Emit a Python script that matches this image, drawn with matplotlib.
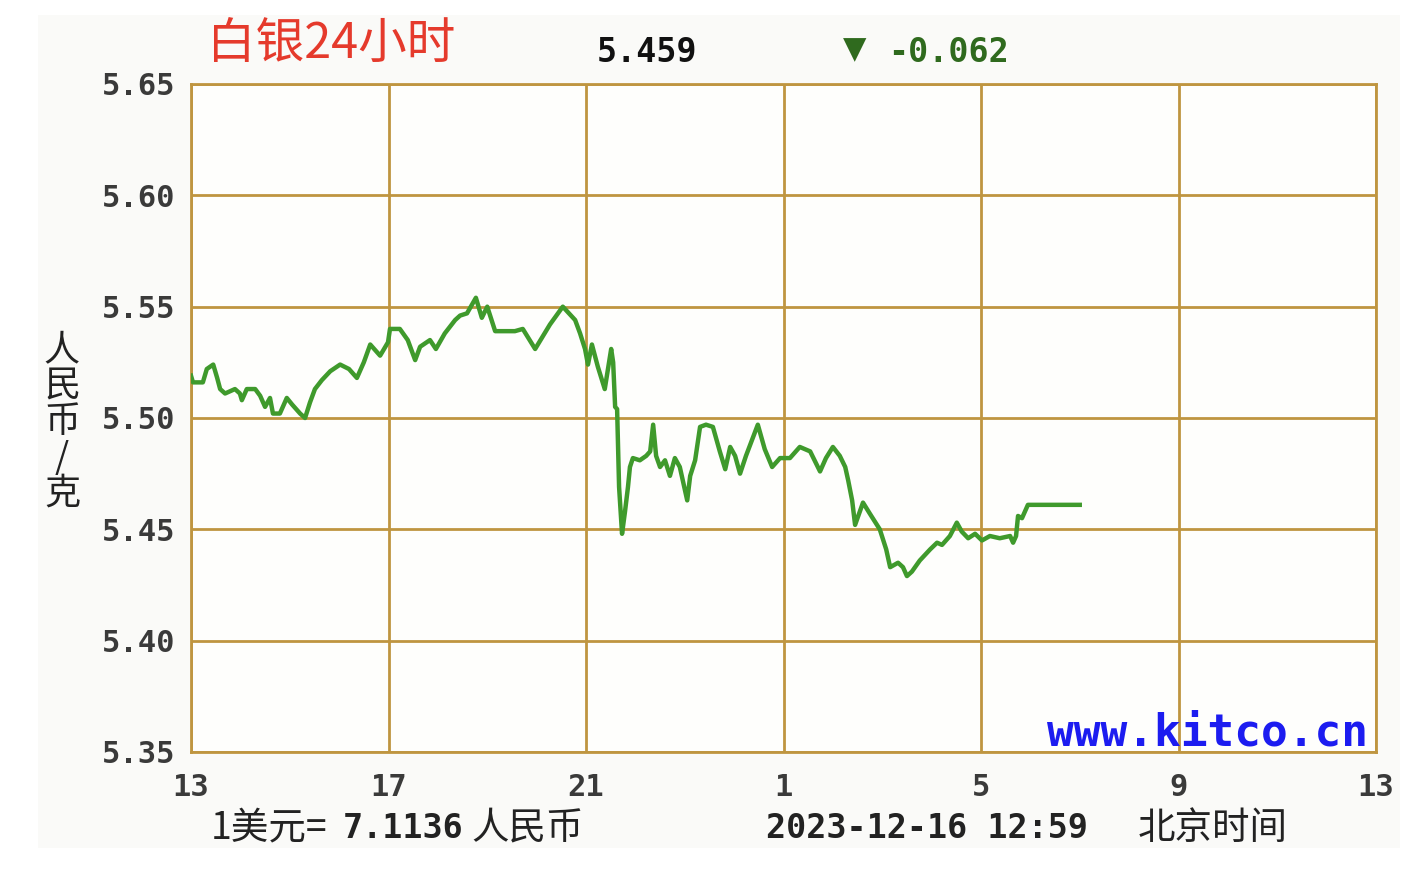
import matplotlib.pyplot as plt
from matplotlib.patches import Rectangle

# hours after 13:00 and silver price (yuan/gram)
hours = [0.00, 0.04, 0.24, 0.32, 0.45, 0.53, 0.59, 0.69, 0.89, 0.99, 1.03, 1.13, 1.30, 1.40, 1.50,
         1.60, 1.66, 1.80, 1.94, 2.05, 2.21, 2.31, 2.41, 2.51, 2.65, 2.82, 3.02, 3.20, 3.36, 3.50,
         3.63, 3.83, 3.99, 4.03, 4.23, 4.39, 4.54, 4.64, 4.84, 4.96, 5.14, 5.35, 5.45, 5.59, 5.77,
         5.89, 6.00, 6.16, 6.56, 6.72, 6.97, 7.27, 7.53, 7.78, 7.88, 7.98, 8.04, 8.12, 8.24, 8.38,
         8.51, 8.55, 8.59, 8.63, 8.67, 8.73, 8.79, 8.85, 8.89, 8.95, 9.09, 9.22, 9.30, 9.36, 9.42,
         9.50, 9.60, 9.70, 9.80, 9.90, 9.98, 10.05, 10.11, 10.21, 10.31, 10.43, 10.57, 10.71, 10.82,
         10.92, 11.02, 11.12, 11.24, 11.36, 11.48, 11.62, 11.77, 11.93, 12.13, 12.33, 12.54, 12.74,
         12.86, 13.00, 13.14, 13.25, 13.31, 13.39, 13.45, 13.61, 13.75, 13.95, 14.08, 14.16, 14.32,
         14.42, 14.50, 14.60, 14.76, 14.97, 15.11, 15.21, 15.37, 15.51, 15.61, 15.74, 15.88, 16.02,
         16.18, 16.38, 16.59, 16.65, 16.71, 16.75, 16.83, 16.95, 18.00]
price = [5.519, 5.516, 5.516, 5.522, 5.524, 5.518, 5.513, 5.511, 5.513, 5.511, 5.508, 5.513, 5.513,
         5.510, 5.505, 5.509, 5.502, 5.502, 5.509, 5.506, 5.502, 5.500, 5.507, 5.513, 5.517, 5.521,
         5.524, 5.522, 5.518, 5.525, 5.533, 5.528, 5.534, 5.540, 5.540, 5.535, 5.526, 5.532, 5.535,
         5.531, 5.538, 5.544, 5.546, 5.547, 5.554, 5.545, 5.550, 5.539, 5.539, 5.540, 5.531, 5.542,
         5.550, 5.544, 5.538, 5.531, 5.524, 5.533, 5.523, 5.513, 5.531, 5.525, 5.505, 5.504, 5.469,
         5.448, 5.458, 5.469, 5.478, 5.482, 5.481, 5.483, 5.485, 5.497, 5.483, 5.478, 5.481, 5.474,
         5.482, 5.478, 5.470, 5.463, 5.474, 5.481, 5.496, 5.497, 5.496, 5.485, 5.477, 5.487, 5.483,
         5.475, 5.483, 5.490, 5.497, 5.486, 5.478, 5.482, 5.482, 5.487, 5.485, 5.476, 5.482, 5.487,
         5.483, 5.478, 5.472, 5.463, 5.452, 5.462, 5.457, 5.450, 5.441, 5.433, 5.435, 5.433, 5.429,
         5.431, 5.436, 5.441, 5.444, 5.443, 5.447, 5.453, 5.449, 5.446, 5.448, 5.445, 5.447, 5.446,
         5.447, 5.444, 5.447, 5.456, 5.455, 5.461, 5.461]

xticks = [0, 4, 8, 12, 16, 20, 24]
xlabels = ['13', '17', '21', '1', '5', '9', '13']
yticks = [5.35, 5.40, 5.45, 5.50, 5.55, 5.60, 5.65]

title = '白银24小时'
last_price = '5.459'
change = '-0.062'
stamp = '2023-12-16 12:59'

grid_c = '#bf9540'
line_c = '#3f9a2c'
cjk = ['Noto Sans CJK SC', 'DejaVu Sans']
mono = 'DejaVu Sans Mono'
W, H = 1412, 874

fig = plt.figure(figsize=(W / 100, H / 100), dpi=100)
fig.patches.append(Rectangle((38 / W, 1 - 848 / H), (1400 - 38) / W, (848 - 15) / H,
                             transform=fig.transFigure, facecolor='#fafaf8',
                             edgecolor='none', zorder=-1))

ax = fig.add_axes([191 / W, 122 / H, 1185 / W, 668 / H])
ax.set_facecolor('#fefefc')
ax.plot(hours, price, color=line_c, lw=3.2, zorder=3)
ax.set_xlim(0, 24)
ax.set_ylim(5.35, 5.65)
ax.set_xticks(xticks)
ax.set_xticklabels(xlabels)
ax.set_yticks(yticks)
ax.set_yticklabels(['%.2f' % v for v in yticks])
ax.grid(color=grid_c, lw=2)
ax.set_axisbelow(True)
for s in ax.spines.values():
    s.set_color(grid_c)
    s.set_linewidth(2)
ax.tick_params(length=0)
ax.tick_params(axis='y', pad=11)
ax.tick_params(axis='x', pad=15)
for lab in ax.get_xticklabels() + ax.get_yticklabels():
    lab.set_fontfamily(mono)
    lab.set_fontweight('bold')
    lab.set_fontsize(22)
    lab.set_color('#3a3a3a')

ax.text(0.993, 0.028, 'www.kitco.cn', transform=ax.transAxes, ha='right', va='center',
        color='#1c1cf0', fontsize=32, fontweight='bold', family=mono, zorder=5)

# header
fig.text(207 / W, 1 - 45 / H, title, color='#e53a2c', fontsize=35, va='center', family=cjk)
fig.text(597 / W, 1 - 52 / H, last_price, color='#111111', fontsize=24, va='center',
         fontweight='bold', family=mono)
fig.text(843 / W, 1 - 50 / H, '▼', color='#2f6a1e', fontsize=22, va='center', family='DejaVu Sans')
fig.text(888 / W, 1 - 52 / H, change, color='#2f6a1e', fontsize=24, va='center',
         fontweight='bold', family=mono)

# y label, stacked
fig.text(62 / W, 1 - 422 / H, '人\n民\n币\n/\n克', ha='center', va='center', fontsize=26,
         linespacing=1.0, family=cjk, color='#222222')

# footer
fig.text(211 / W, 1 - 828 / H, '1美元=', fontsize=27, va='center', family=cjk, color='#222222')
fig.text(343 / W, 1 - 828 / H, '7.1136', fontsize=24, va='center', fontweight='bold',
         family=mono, color='#222222')
fig.text(471 / W, 1 - 828 / H, '人民币', fontsize=27, va='center', family=cjk, color='#222222')
fig.text(766 / W, 1 - 828 / H, stamp, fontsize=24, va='center', fontweight='bold',
         family=mono, color='#222222')
fig.text(1138 / W, 1 - 828 / H, '北京时间', fontsize=27, va='center', family=cjk, color='#222222')

fig.savefig('out.png', dpi=100)
